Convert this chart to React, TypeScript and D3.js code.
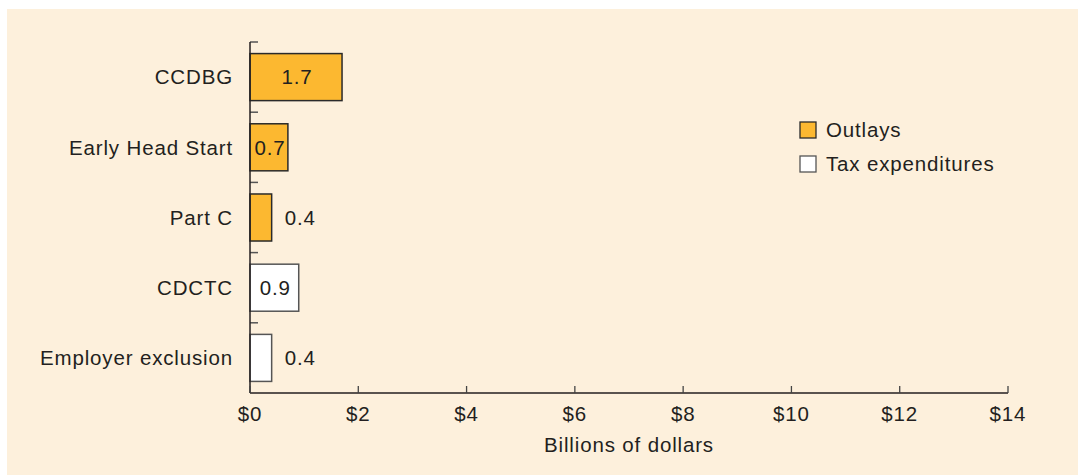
import React from "react";
import * as d3 from "d3";

const categories = ["CCDBG", "Early Head Start", "Part C", "CDCTC", "Employer exclusion"];
const values = [1.7, 0.7, 0.4, 0.9, 0.4];
const seriesOf = ["Outlays", "Outlays", "Outlays", "Tax expenditures", "Tax expenditures"];
const legendItems = ["Outlays", "Tax expenditures"];
const xTicks = [0, 2, 4, 6, 8, 10, 12, 14];
const xTitle = "Billions of dollars";

const W = 1078;
const H = 475;
const FONT = "'Liberation Sans', Arial, Helvetica, sans-serif";
const TEXT = "#231f20";
const FS = 20.5;
const LS = 0.85;

export default function App() {
  const x = d3.scaleLinear().domain([0, 14]).range([250, 1008]);
  const y = d3.scaleBand<string>().domain(categories).range([42, 393]).paddingInner(0.33).paddingOuter(0.165);
  const band = d3.scaleBand<string>().domain(categories).range([42, 393]);
  const fillOf = (s: string) => (s === "Outlays" ? "#fcb830" : "#ffffff");
  const strokeOf = (s: string) => (s === "Outlays" ? "#2a2a2a" : "#555555");
  const y0 = 393;

  return (
    <svg width={W} height={H} style={{ position: "absolute", left: 0, top: 0 }}>
      <rect x={7} y={9} width={W - 7} height={H - 9} fill="#fdf0dc" />
      {categories.map((c, i) => {
        const v = values[i];
        const s = seriesOf[i];
        const bw = x(v) - x(0);
        const by = y(c)!;
        const bh = y.bandwidth();
        const inside = bw >= 30;
        return (
          <g key={c}>
            <rect x={x(0)} y={by} width={bw} height={bh} fill={fillOf(s)} stroke={strokeOf(s)} strokeWidth={1.5} />
            <text
              x={inside ? x(0) + bw / 2 + 1 : x(v) + 13}
              y={by + bh / 2}
              dy="0.36em"
              textAnchor={inside ? "middle" : "start"}
              fontFamily={FONT}
              fontSize={FS}
              letterSpacing={LS}
              fill={TEXT}
            >
              {v.toFixed(1)}
            </text>
            <text
              x={233}
              y={band(c)! + band.bandwidth() / 2}
              dy="0.36em"
              textAnchor="end"
              fontFamily={FONT}
              fontSize={FS}
              letterSpacing={LS}
              fill={TEXT}
            >
              {c}
            </text>
          </g>
        );
      })}
      {categories.map((c) => band(c)!).map((t, i) => (
        <line key={"ct" + i} x1={250} x2={258} y1={t} y2={t} stroke="#555" strokeWidth={1.5} />
      ))}
      <line x1={250} x2={250} y1={42} y2={y0} stroke={TEXT} strokeWidth={1.5} />
      <line x1={250} x2={x(14)} y1={y0} y2={y0} stroke={TEXT} strokeWidth={1.5} />
      {xTicks.map((t) => (
        <g key={"xt" + t}>
          <line x1={x(t)} x2={x(t)} y1={y0} y2={y0 - 7} stroke="#444" strokeWidth={1.3} />
          <text x={x(t)} y={421} textAnchor="middle" fontFamily={FONT} fontSize={FS} letterSpacing={LS} fill={TEXT}>
            {"$" + t}
          </text>
        </g>
      ))}
      <text x={x(7)} y={452} textAnchor="middle" fontFamily={FONT} fontSize={FS} letterSpacing={LS} fill={TEXT}>
        {xTitle}
      </text>
      {legendItems.map((s, i) => (
        <g key={s} transform={`translate(800, ${122 + i * 34})`}>
          <rect x={0} y={0} width={16} height={16} fill={fillOf(s)} stroke={strokeOf(s)} strokeWidth={1.3} />
          <text x={26} y={8} dy="0.36em" fontFamily={FONT} fontSize={FS} letterSpacing={LS} fill={TEXT}>
            {s}
          </text>
        </g>
      ))}
    </svg>
  );
}
